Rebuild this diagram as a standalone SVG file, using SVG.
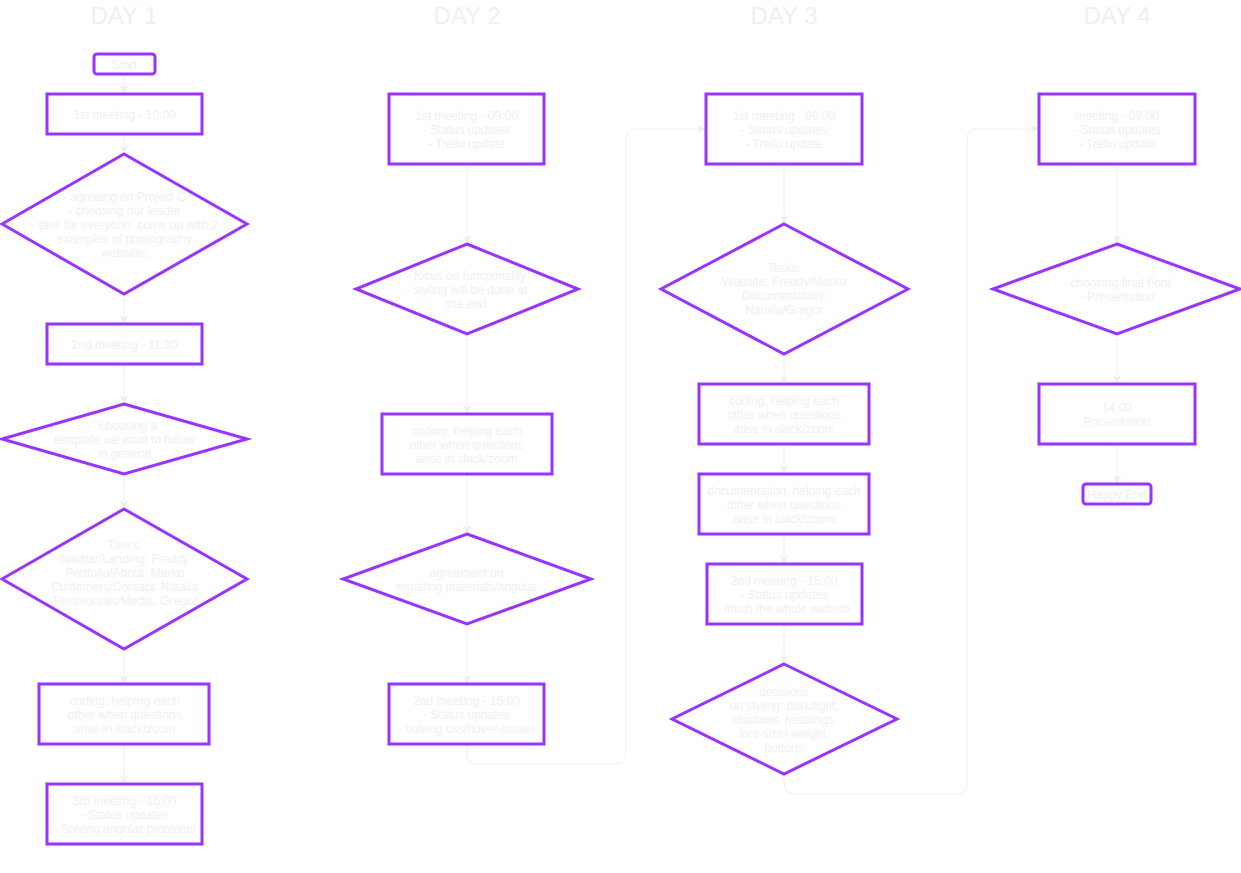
<svg xmlns="http://www.w3.org/2000/svg" width="1241" height="873" viewBox="0 0 1241 873">
<style>
.n{fill:#ffffff;stroke:#9933ff;stroke-width:3}
.t{font-family:"Liberation Sans",Arial,sans-serif;font-size:12px;fill:#f0f0f0;text-anchor:middle}
.h{font-family:"Liberation Sans",Arial,sans-serif;font-size:24px;fill:#f0f0f0;text-anchor:middle}
.c{fill:none;stroke:#eeeeee;stroke-width:1;marker-end:url(#a)}
</style>
<defs>
<marker id="a" viewBox="0 0 10 10" refX="10" refY="5" markerWidth="9" markerHeight="9" markerUnits="userSpaceOnUse" orient="auto">
<path d="M0,0 L10,5 L0,10 L3,5 Z" fill="#eeeeee"/>
</marker>
</defs>
<rect width="1241" height="873" fill="#ffffff"/>
<g id="titles">
<text class="h" x="124" y="24">DAY 1</text>
<text class="h" x="467" y="24">DAY 2</text>
<text class="h" x="784" y="24">DAY 3</text>
<text class="h" x="1117" y="24">DAY 4</text>
</g>
<g id="connectors">
<path class="c" d="M124,74 V94"/>
<path class="c" d="M124,134 V154"/>
<path class="c" d="M124,294 V324"/>
<path class="c" d="M124,364 V404"/>
<path class="c" d="M124,474 V509"/>
<path class="c" d="M124,649 V684"/>
<path class="c" d="M124,744 V784"/>
<path class="c" d="M467,164 V244"/>
<path class="c" d="M467,334 V414"/>
<path class="c" d="M467,474 V534"/>
<path class="c" d="M467,624 V684"/>
<path class="c" d="M467,744 V754 Q467,764 477,764 H616 Q626,764 626,754 V139 Q626,129 636,129 H706"/>
<path class="c" d="M784,164 V224"/>
<path class="c" d="M784,354 V384"/>
<path class="c" d="M784,444 V474"/>
<path class="c" d="M784,534 V564"/>
<path class="c" d="M784,624 V664"/>
<path class="c" d="M784,774 V784 Q784,794 794,794 H957 Q967,794 967,784 V139 Q967,129 977,129 H1039"/>
<path class="c" d="M1117,164 V244"/>
<path class="c" d="M1117,334 V384"/>
<path class="c" d="M1117,444 V484"/>
</g>
<g id="d1-start"><rect class="n" x="94" y="54" width="61" height="20" rx="3"/><text class="t" x="124.5" y="69">Start</text></g>
<g id="d1-meet1"><rect class="n" x="47" y="94" width="155" height="40"/><text class="t" x="124.5" y="119">1st meeting - 10:00</text></g>
<g id="d1-dec1"><polygon class="n" points="124,154 247,224 124,294 2,224"/>
<text class="t" x="124.5" y="201">- agreeing on Project C</text><text class="t" x="124.5" y="215">- choosing our leader</text><text class="t" x="124.5" y="229">- task for everyone: come up with 2</text><text class="t" x="124.5" y="243">examples of photography</text><text class="t" x="124.5" y="257">websites</text></g>
<g id="d1-meet2"><rect class="n" x="47" y="324" width="155" height="40"/><text class="t" x="124.5" y="349">2nd meeting - 11:30</text></g>
<g id="d1-dec2"><polygon class="n" points="124,404 247,439 124,474 2,439"/>
<text class="t" x="124.5" y="430">- choosing a</text><text class="t" x="124.5" y="444">template we want to follow</text><text class="t" x="124.5" y="458">in general</text></g>
<g id="d1-dec3"><polygon class="n" points="124,509 247,579 124,649 2,579"/>
<text class="t" x="124.5" y="549">Tasks:</text><text class="t" x="124.5" y="563">Navbar/Landing: Freddy</text><text class="t" x="124.5" y="577">Portfolio/About: Marko</text><text class="t" x="124.5" y="591">Customers/Contact: Natalia</text><text class="t" x="124.5" y="605">Testimonials/Media: Gregor</text></g>
<g id="d1-coding"><rect class="n" x="39" y="684" width="170" height="60"/>
<text class="t" x="124.5" y="705">coding, helping each</text><text class="t" x="124.5" y="719">other when questions</text><text class="t" x="124.5" y="733">arise in slack/zoom</text></g>
<g id="d1-meet3"><rect class="n" x="47" y="784" width="155" height="60"/>
<text class="t" x="124.5" y="805">3rd meeting - 16:00</text><text class="t" x="124.5" y="819">- Status updates</text><text class="t" x="124.5" y="833">- Solving angular problems</text></g>

<g id="d2-meet1"><rect class="n" x="389" y="94" width="155" height="70"/>
<text class="t" x="466.5" y="120">1st meeting - 09:00</text><text class="t" x="466.5" y="134">- Status updates</text><text class="t" x="466.5" y="148">- Trello update</text></g>
<g id="d2-dec1"><polygon class="n" points="467,244 578,289 467,334 356,289"/>
<text class="t" x="466.5" y="280">- focus on functionality</text><text class="t" x="466.5" y="294">- styling will be done at</text><text class="t" x="466.5" y="308">the end</text></g>
<g id="d2-coding"><rect class="n" x="382" y="414" width="170" height="60"/>
<text class="t" x="466.5" y="435">coding, helping each</text><text class="t" x="466.5" y="449">other when questions</text><text class="t" x="466.5" y="463">arise in slack/zoom</text></g>
<g id="d2-dec2"><polygon class="n" points="467,534 591,579 467,624 343,579"/>
<text class="t" x="466.5" y="577">agreement on</text><text class="t" x="466.5" y="591">installing materials/angular</text></g>
<g id="d2-meet2"><rect class="n" x="389" y="684" width="155" height="60"/>
<text class="t" x="466.5" y="705">2nd meeting - 15:00</text><text class="t" x="466.5" y="719">- Status updates</text><text class="t" x="466.5" y="733">- solving css/hover-issues</text></g>

<g id="d3-meet1"><rect class="n" x="706" y="94" width="156" height="70"/>
<text class="t" x="784" y="120">1st meeting - 09:00</text><text class="t" x="784" y="134">- Status updates</text><text class="t" x="784" y="148">- Trello update</text></g>
<g id="d3-dec1"><polygon class="n" points="784,224 908,289 784,354 661,289"/>
<text class="t" x="784" y="272">Tasks:</text><text class="t" x="784" y="286">Website: Freddy/Marko</text><text class="t" x="784" y="300">Documentation:</text><text class="t" x="784" y="314">Natalia/Gregor</text></g>
<g id="d3-coding"><rect class="n" x="699" y="384" width="170" height="60"/>
<text class="t" x="784" y="405">coding, helping each</text><text class="t" x="784" y="419">other when questions</text><text class="t" x="784" y="433">arise in slack/zoom</text></g>
<g id="d3-doc"><rect class="n" x="699" y="474" width="170" height="60"/>
<text class="t" x="784" y="495">documentation, helping each</text><text class="t" x="784" y="509">other when questions</text><text class="t" x="784" y="523">arise in slack/zoom</text></g>
<g id="d3-meet2"><rect class="n" x="707" y="564" width="155" height="60"/>
<text class="t" x="784" y="585">2nd meeting - 15:00</text><text class="t" x="784" y="599">- Status updates</text><text class="t" x="784" y="613">- finish the whole website</text></g>
<g id="d3-dec2"><polygon class="n" points="784,664 897,719 784,774 672,719"/>
<text class="t" x="784" y="696">decisions</text><text class="t" x="784" y="710">on styling: dark/light,</text><text class="t" x="784" y="724">shadows, headings,</text><text class="t" x="784" y="738">font-size/-weight,</text><text class="t" x="784" y="752">buttons</text></g>

<g id="d4-meet"><rect class="n" x="1039" y="94" width="156" height="70"/>
<text class="t" x="1117" y="120">meeting - 09:00</text><text class="t" x="1117" y="134">- Status updates</text><text class="t" x="1117" y="148">- Trello update</text></g>
<g id="d4-dec"><polygon class="n" points="1117,244 1240,289 1117,334 993,289"/>
<text class="t" x="1117" y="287">- choosing final Font</text><text class="t" x="1117" y="301">- Presentation</text></g>
<g id="d4-pres"><rect class="n" x="1039" y="384" width="156" height="60"/>
<text class="t" x="1117" y="412">14:00</text><text class="t" x="1117" y="426">Presentation</text></g>
<g id="d4-end"><rect class="n" x="1083" y="484" width="68" height="20" rx="3"/><text class="t" x="1117" y="499">Happy End</text></g>
</svg>
